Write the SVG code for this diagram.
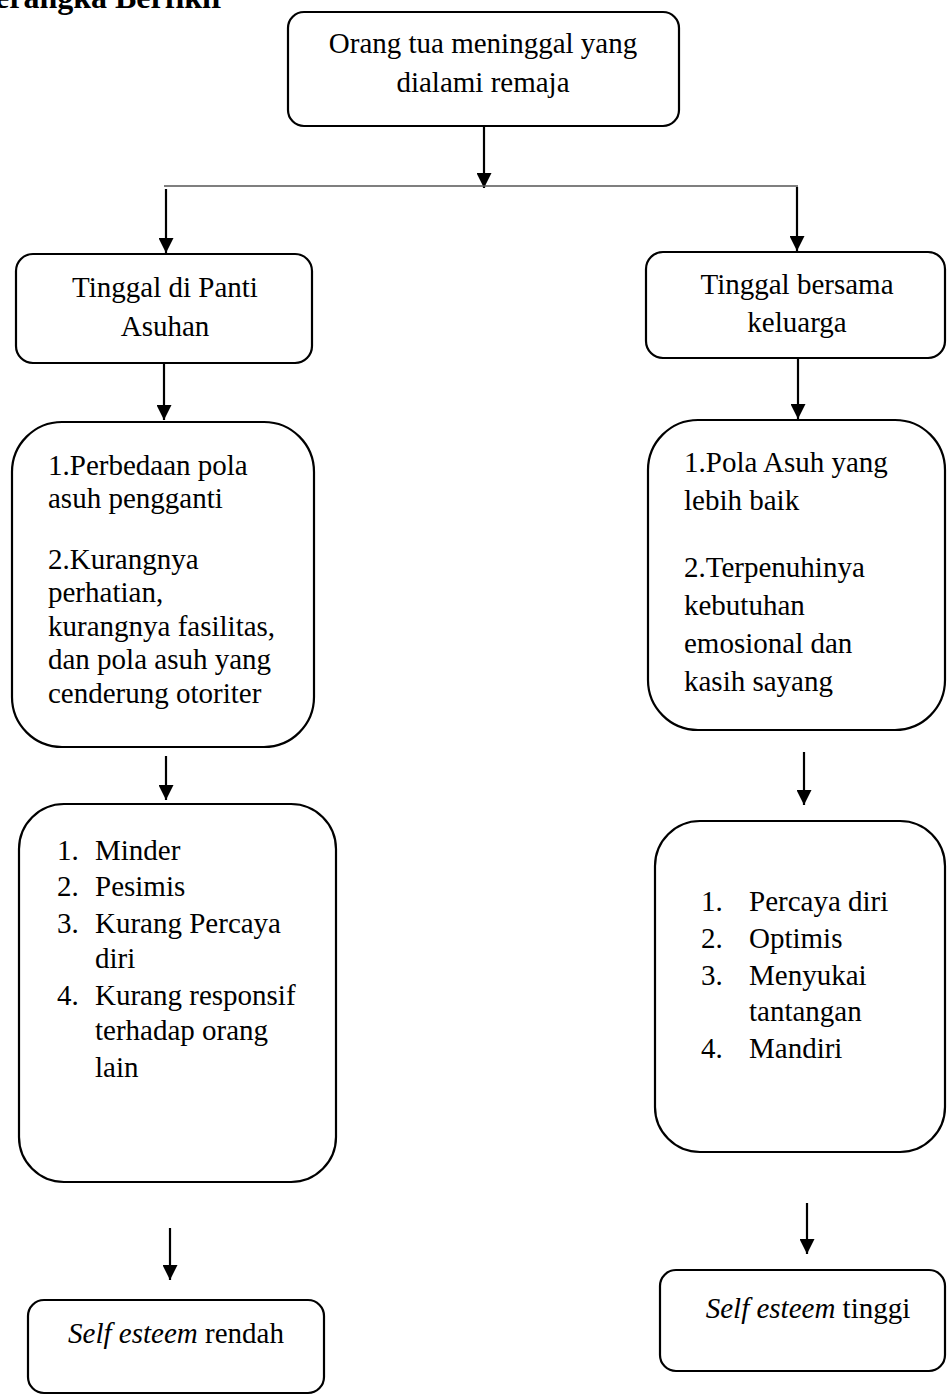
<svg xmlns="http://www.w3.org/2000/svg" width="947" height="1396" viewBox="0 0 947 1396">
<style>
  .box { fill: #ffffff; stroke: #000000; stroke-width: 2.2; }
  .t { font-family: "Liberation Serif", "Times New Roman", serif; font-size: 29px; fill: #000000; }
  .c { text-anchor: middle; }
  .it { font-style: italic; }
  .title { font-family: "Liberation Serif", "Times New Roman", serif; font-size: 32px; font-weight: bold; fill: #000000; }
  .arr { stroke: #000000; stroke-width: 2.2; fill: none; marker-end: url(#ah); }
  .hl { stroke: #555555; stroke-width: 1.6; fill: none; }
</style>
<defs>
  <marker id="ah" markerUnits="userSpaceOnUse" markerWidth="15" markerHeight="15" refX="15" refY="7.5" orient="auto">
    <path d="M0,0 L15,7.5 L0,15 Z" fill="#000000"/>
  </marker>
</defs>
<rect width="947" height="1396" fill="#ffffff"/>

<text class="title" x="-5" y="8">erangka Berfikir</text>

<g id="connectors">
  <line class="arr" x1="484" y1="126" x2="484" y2="188"/>
  <line class="hl" x1="164" y1="186" x2="798" y2="186"/>
  <line class="arr" x1="166" y1="189" x2="166" y2="253"/>
  <line class="arr" x1="797" y1="187" x2="797" y2="251"/>
  <line class="arr" x1="164" y1="363" x2="164" y2="420"/>
  <line class="arr" x1="798" y1="358" x2="798" y2="419"/>
  <line class="arr" x1="166" y1="756" x2="166" y2="800"/>
  <line class="arr" x1="804" y1="752" x2="804" y2="805"/>
  <line class="arr" x1="170" y1="1228" x2="170" y2="1280"/>
  <line class="arr" x1="807" y1="1203" x2="807" y2="1254"/>
</g>

<g id="n-top">
  <rect class="box" x="288" y="12" width="391" height="114" rx="16"/>
  <text class="t c" x="483" y="53">Orang tua meninggal yang</text>
  <text class="t c" x="483" y="92">dialami remaja</text>
</g>

<g id="n-panti">
  <rect class="box" x="16" y="254" width="296" height="109" rx="17"/>
  <text class="t c" x="165" y="297">Tinggal di Panti</text>
  <text class="t c" x="165" y="336">Asuhan</text>
</g>

<g id="n-keluarga">
  <rect class="box" x="646" y="252" width="299" height="106" rx="17"/>
  <text class="t c" x="797" y="294">Tinggal bersama</text>
  <text class="t c" x="797" y="332">keluarga</text>
</g>

<g id="n-panti-faktor">
  <rect class="box" x="12" y="422" width="302" height="325" rx="50"/>
  <text class="t" x="48" y="475">1.Perbedaan pola</text>
  <text class="t" x="48" y="508">asuh pengganti</text>
  <text class="t" x="48" y="569">2.Kurangnya</text>
  <text class="t" x="48" y="602">perhatian,</text>
  <text class="t" x="48" y="636">kurangnya fasilitas,</text>
  <text class="t" x="48" y="669">dan pola asuh yang</text>
  <text class="t" x="48" y="703">cenderung otoriter</text>
</g>

<g id="n-keluarga-faktor">
  <rect class="box" x="648" y="420" width="297" height="310" rx="50"/>
  <text class="t" x="684" y="472">1.Pola Asuh yang</text>
  <text class="t" x="684" y="510">lebih baik</text>
  <text class="t" x="684" y="577">2.Terpenuhinya</text>
  <text class="t" x="684" y="615">kebutuhan</text>
  <text class="t" x="684" y="653">emosional dan</text>
  <text class="t" x="684" y="691">kasih sayang</text>
</g>

<g id="n-panti-dampak">
  <rect class="box" x="19" y="804" width="317" height="378" rx="45"/>
  <text class="t" x="57" y="860">1.</text><text class="t" x="95" y="860">Minder</text>
  <text class="t" x="57" y="896">2.</text><text class="t" x="95" y="896">Pesimis</text>
  <text class="t" x="57" y="933">3.</text><text class="t" x="95" y="933">Kurang Percaya</text>
  <text class="t" x="95" y="968">diri</text>
  <text class="t" x="57" y="1005">4.</text><text class="t" x="95" y="1005">Kurang responsif</text>
  <text class="t" x="95" y="1040">terhadap orang</text>
  <text class="t" x="95" y="1077">lain</text>
</g>

<g id="n-keluarga-dampak">
  <rect class="box" x="655" y="821" width="290" height="331" rx="45"/>
  <text class="t" x="701" y="911">1.</text><text class="t" x="749" y="911">Percaya diri</text>
  <text class="t" x="701" y="948">2.</text><text class="t" x="749" y="948">Optimis</text>
  <text class="t" x="701" y="985">3.</text><text class="t" x="749" y="985">Menyukai</text>
  <text class="t" x="749" y="1021">tantangan</text>
  <text class="t" x="701" y="1058">4.</text><text class="t" x="749" y="1058">Mandiri</text>
</g>

<g id="n-rendah">
  <rect class="box" x="28" y="1300" width="296" height="93" rx="16"/>
  <text class="t c" x="176" y="1343"><tspan class="it">Self esteem</tspan> rendah</text>
</g>

<g id="n-tinggi">
  <rect class="box" x="660" y="1270" width="285" height="101" rx="16"/>
  <text class="t c" x="808" y="1318"><tspan class="it">Self esteem</tspan> tinggi</text>
</g>
</svg>
